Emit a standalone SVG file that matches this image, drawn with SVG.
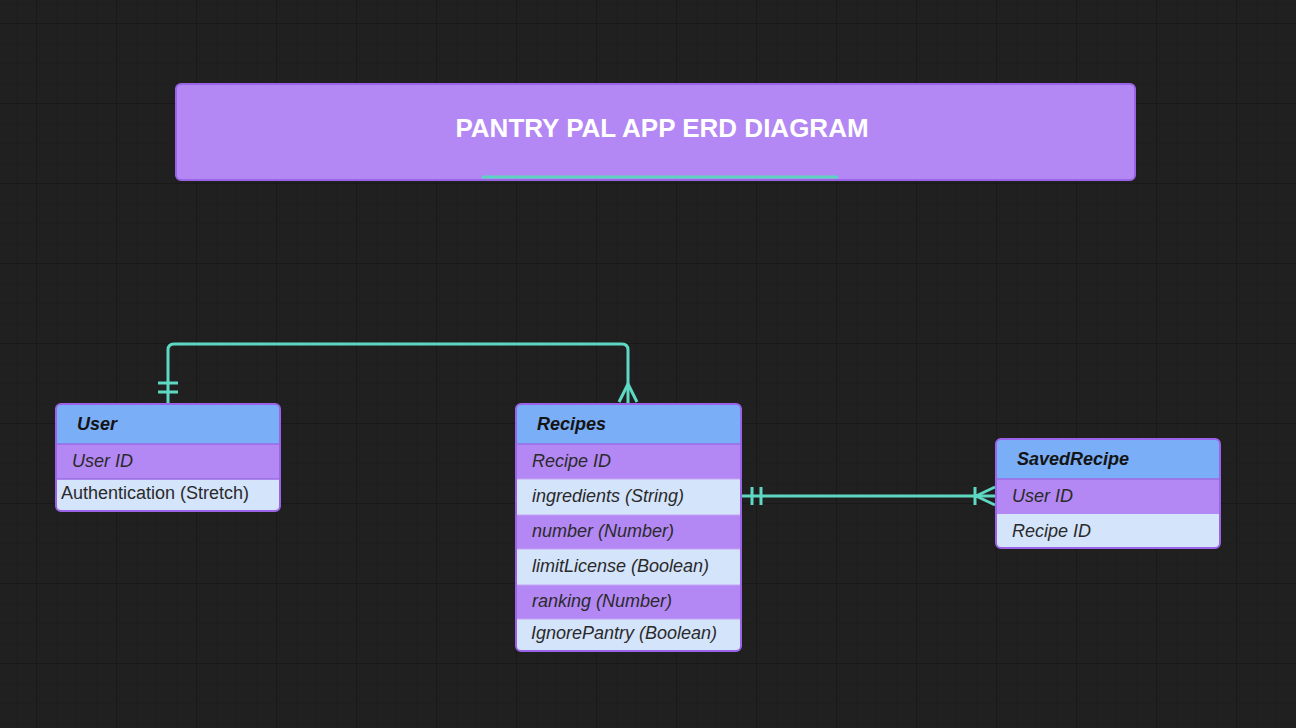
<svg xmlns="http://www.w3.org/2000/svg" width="1296" height="728" viewBox="0 0 1296 728">
<defs>
<pattern id="minor" x="16" y="3" width="20" height="20" patternUnits="userSpaceOnUse">
<path d="M0 0H20M0 0V20" fill="none" stroke="#1c1c1c" stroke-width="1"/>
</pattern>
<pattern id="major" x="36" y="23" width="80" height="80" patternUnits="userSpaceOnUse">
<path d="M0 0H80M0 0V80" fill="none" stroke="#181818" stroke-width="1.5"/>
</pattern>
<clipPath id="cUser"><rect x="56" y="404" width="224" height="107" rx="5"/></clipPath>
<clipPath id="cRec"><rect x="516" y="404" width="225" height="247" rx="5"/></clipPath>
<clipPath id="cSav"><rect x="996" y="439" width="224" height="109" rx="5"/></clipPath>
</defs>
<style>
.hdr{fill:#7aaef7}
.pur{fill:#b388f4}
.lt{fill:#d4e4fb}
.sep{stroke:#9b6be6;stroke-width:1.5}
.frame{fill:none;stroke:#9b63e8;stroke-width:2}
.ht{font-family:"Liberation Sans",Arial,sans-serif;font-size:18px;font-weight:bold;font-style:italic;fill:#141414}
.rt{font-family:"Liberation Sans",Arial,sans-serif;font-size:18px;font-style:italic;fill:#2a2a2a}
.rn{font-family:"Liberation Sans",Arial,sans-serif;font-size:18px;fill:#2a2a2a}
.con{fill:none;stroke:#5ed8c2;stroke-width:3;stroke-linecap:butt;stroke-linejoin:round}
</style>
<rect width="1296" height="728" fill="#202020"/>
<rect width="1296" height="728" fill="url(#minor)"/>
<rect width="1296" height="728" fill="url(#major)"/>

<g id="title">
<rect x="176" y="84" width="959" height="96" rx="5" fill="#b388f4" stroke="#9b63e8" stroke-width="2"/>
<text x="662" y="137" text-anchor="middle" font-family="'Liberation Sans',Arial,sans-serif" font-size="26" font-weight="bold" fill="#ffffff">PANTRY PAL APP ERD DIAGRAM</text>
<rect x="482" y="175.5" width="356" height="3" fill="#5ed4c0"/>
</g>

<g id="connectors">
<path class="con" d="M168 404V350Q168 344 174 344H622Q628 344 628 350V404"/>
<path class="con" d="M158 383H178M158 392H178"/>
<path class="con" d="M619 402L628 384L637 402"/>
<path class="con" d="M741 496H996"/>
<path class="con" d="M752 487V505M761 487V505"/>
<path class="con" d="M975 487V505M995 487L976 496L995 505"/>
</g>

<g id="user">
<g clip-path="url(#cUser)">
<rect class="hdr" x="56" y="404" width="224" height="40"/>
<rect class="pur" x="56" y="444" width="224" height="35"/>
<rect class="lt" x="56" y="479" width="224" height="32"/>
<path class="sep" d="M56 444H280M56 479H280"/>
</g>
<rect class="frame" x="56" y="404" width="224" height="107" rx="5"/>
<text class="ht" x="77" y="430">User</text>
<text class="rt" x="72" y="467">User ID</text>
<text class="rn" x="61" y="499">Authentication (Stretch)</text>
</g>

<g id="recipes">
<g clip-path="url(#cRec)">
<rect class="hdr" x="516" y="404" width="225" height="40"/>
<rect class="pur" x="516" y="444" width="225" height="35"/>
<rect class="lt" x="516" y="479" width="225" height="36"/>
<rect class="pur" x="516" y="515" width="225" height="34"/>
<rect class="lt" x="516" y="549" width="225" height="36"/>
<rect class="pur" x="516" y="585" width="225" height="34"/>
<rect class="lt" x="516" y="619" width="225" height="32"/>
<path class="sep" d="M516 444H741"/>
<path d="M516 479H741M516 515H741M516 549H741M516 585H741M516 619H741" stroke="#c4a4f4" stroke-width="1"/>
</g>
<rect class="frame" x="516" y="404" width="225" height="247" rx="5"/>
<text class="ht" x="537" y="430">Recipes</text>
<text class="rt" x="532" y="467">Recipe ID</text>
<text class="rt" x="532" y="502">ingredients (String)</text>
<text class="rt" x="532" y="537">number (Number)</text>
<text class="rt" x="532" y="572">limitLicense (Boolean)</text>
<text class="rt" x="532" y="607">ranking (Number)</text>
<text class="rt" x="531" y="639">IgnorePantry (Boolean)</text>
</g>

<g id="savedrecipe">
<g clip-path="url(#cSav)">
<rect class="hdr" x="996" y="439" width="224" height="40"/>
<rect class="pur" x="996" y="479" width="224" height="35"/>
<rect class="lt" x="996" y="514" width="224" height="34"/>
<path class="sep" d="M996 479H1220"/>
</g>
<rect class="frame" x="996" y="439" width="224" height="109" rx="5"/>
<text class="ht" x="1017" y="465">SavedRecipe</text>
<text class="rt" x="1012" y="502">User ID</text>
<text class="rt" x="1012" y="537">Recipe ID</text>
</g>
</svg>
